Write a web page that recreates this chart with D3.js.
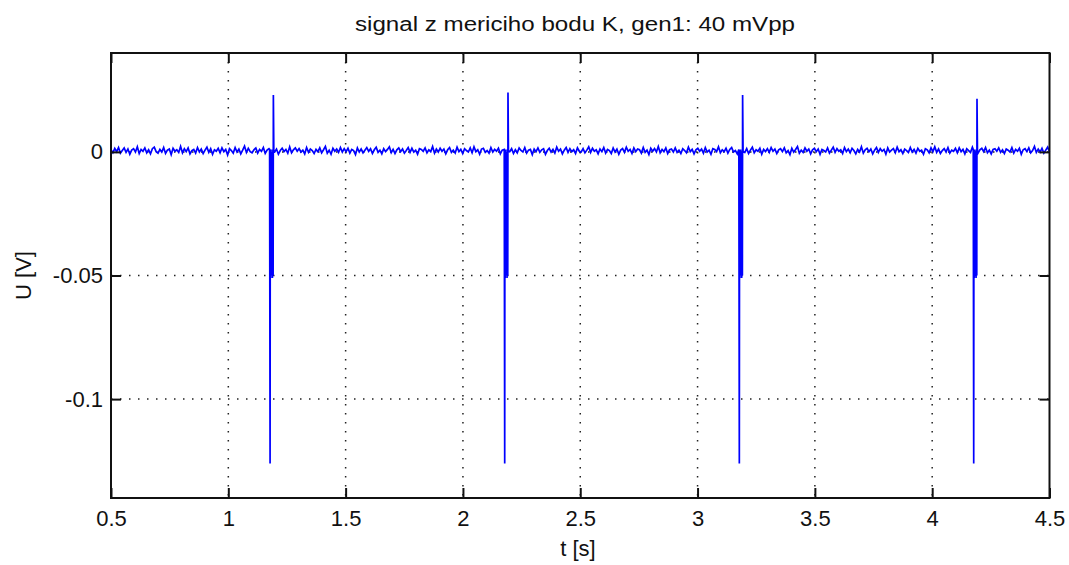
<!DOCTYPE html>
<html>
<head>
<meta charset="utf-8">
<script src="https://cdn.jsdelivr.net/npm/d3@7/dist/d3.min.js"></script>
<style>
  html, body { margin: 0; padding: 0; background: #fff; }
  svg { display: block; }
  text { font-family: "Liberation Sans", Arial, sans-serif; fill: #111; }
</style>
</head>
<body>
<svg id="chart" width="1069" height="565"></svg>
<script>
// Measured signal: baseline noise plus four pulses (U in volts, t in seconds)
const titleText = "signal z mericiho bodu K, gen1: 40 mVpp";
const xLabel = "t [s]";
const yLabel = "U [V]";

const xDomain = [0.5, 4.5];
const yDomain = [-0.14, 0.04];
const xTicks = [0.5, 1, 1.5, 2, 2.5, 3, 3.5, 4, 4.5];
const yTicks = [-0.1, -0.05, 0];
const xGrid = [1, 1.5, 2, 2.5, 3, 3.5, 4];
const yGrid = [-0.1, -0.05, 0];

// Baseline noise, in units of 0.15 mV, sampled evenly over the record
const noiseStart = 0.5;
const noiseEnd = 4.5;
const noiseUnit = 0.00015;
const noiseBaseline = 0.0004;
const noise = [
  3,-5,7,-2,9,-6,1,8,-4,5,-9,2,6,-3,11,-7,4,-1,8,-5,3,-8,6,10,-2,
  -6,4,-3,9,-7,2,5,-10,7,-1,3,-4,12,-5,6,-2,8,-8,1,4,-6,9,-3,5,-7,
  2,10,-4,6,-9,3,-1,7,-5,8,-2,4,-11,6,1,-6,9,-3,5,-8,2,13,-4,7,-2,
  -5,3,8,-6,4,-1,9,-7,2,6,-4,10,-3,5,-9,1,7,-2,4,-6,11,-5,3,8,-1,
  6,-3,2,-8,9,-4,5,1,-7,4,-2,8,-5,3,12,-6,2,-9,7,-1,5,-4,9,-3,6,
  -2,7,-6,4,1,-10,8,-3,5,-5,2,9,-1,6,-7,3,10,-4,2,-8,6,-2,4,11,-5,
  4,-7,3,8,-2,5,-6,1,9,-4,7,-3,2,-9,6,4,-1,8,-5,3,-2,12,-6,5,-3,
  7,-1,5,-8,3,9,-4,2,-6,10,-2,4,-7,6,1,-3,8,-5,11,-2,3,-9,5,7,-4,
  1,-6,9,-3,4,-1,7,-8,2,5,-4,13,-2,6,-7,3,-5,8,1,-3,9,-6,2,4,-10,
  5,-2,8,-4,3,6,-9,1,7,-3,4,-6,10,-1,5,-8,2,9,-4,6,-2,3,-7,8,-1,
  -3,6,-5,2,11,-4,7,-1,3,-8,5,-2,9,-6,4,1,-7,8,-3,5,-9,2,6,-4,10,
  -1,4,-7,8,-2,5,3,-6,9,-4,2,-10,7,-1,6,-3,12,-5,4,-2,8,-7,3,5,-3,
  8,-4,2,-7,6,1,-5,10,-2,4,-8,3,7,-1,5,-6,9,-3,2,-9,6,4,-2,11,-5,
  3,-2,7,-6,4,9,-3,1,-8,5,-1,8,-4,6,-7,2,10,-5,3,-1,7,-9,4,-2,6,
  -4,9,-1,5,-7,3,6,-2,8,-5,1,-10,7,-3,4,12,-6,2,-4,8,-1,5,-8,3,7,
  -2,5,-9,4,1,-3,8,-6,2,10,-4,6,-1,3,-7,9,-2,5,-5,7,1,-8,4,-3,11,
  -6,3,7,-2,5,-8,2,9,-4,6,-1,4,-9,8,-3,2,6,-5,10,-2,3,-7,5,1,-4,
  9,-3,4,-6,7,-1,2,-9,6,3,-5,8,-2,11,-4,5,-7,1,6,-3,9,-6,2,-1,7,
  -5,8,-2,4,-8,6,1,-4,10,-3,5,-6,3,7,-2,9,-5,2,-8,4,6,-1,8,-4,3,
  -7,5,2,-3,9,-6,4,-1,7,-9,3,6,-2,8,-5,1,12,-4,5,-3,7,-6,2,10,-2
];

// Pulses: centre time and the samples recorded around it (V)
const pulseTimes = [1.184, 2.184, 3.184, 4.183];
const pulseOffsets = [-0.008, -0.006, -0.005, -0.004, -0.002, 0, 0.002, 0.004, 0.006, 0.007, 0.008, 0.010];
const pulse1 = [0.001, -0.126, 0.000, -0.051, 0.001, -0.050, 0.000, -0.051, 0.001, -0.050, 0.023, 0.000];
const pulse2 = [0.001, -0.126, 0.000, -0.051, 0.001, -0.050, 0.000, -0.051, 0.001, -0.050, 0.024, 0.000];
const pulse3 = [0.001, -0.126, 0.000, -0.051, 0.001, -0.050, 0.000, -0.051, 0.001, -0.050, 0.023, 0.000];
const pulse4 = [0.001, -0.126, 0.000, -0.051, 0.001, -0.050, 0.000, -0.051, 0.001, -0.050, 0.0215, 0.000];
const pulses = [pulse1, pulse2, pulse3, pulse4];

// ---- layout ----
const plot = { left: 111, right: 1049.5, top: 53, bottom: 498 };

const svg = d3.select("#chart");
const x = d3.scaleLinear().domain(xDomain).range([plot.left, plot.right]);
const y = d3.scaleLinear().domain(yDomain).range([plot.bottom, plot.top]);

// assemble the sample series
const step = (noiseEnd - noiseStart) / (noise.length - 1);
const windowBefore = 0.009, windowAfter = 0.011;
let samples = noise.map((v, i) => ({ t: noiseStart + i * step, u: noiseBaseline + v * noiseUnit }))
  .filter(d => !pulseTimes.some(pt => d.t > pt - windowBefore && d.t < pt + windowAfter));
pulseTimes.forEach((pt, k) => {
  pulseOffsets.forEach((o, j) => samples.push({ t: pt + o, u: pulses[k][j] }));
});
samples.sort((a, b) => a.t - b.t);

// grid
const grid = svg.append("g").attr("class", "grid");
grid.selectAll("line.gx").data(xGrid).enter().append("line")
  .attr("x1", d => x(d)).attr("x2", d => x(d))
  .attr("y1", plot.top).attr("y2", plot.bottom)
  .attr("stroke", "#222").attr("stroke-width", 1.5).attr("stroke-dasharray", "1.5 7.5");
grid.selectAll("line.gy").data(yGrid).enter().append("line")
  .attr("x1", plot.left).attr("x2", plot.right)
  .attr("y1", d => y(d)).attr("y2", d => y(d))
  .attr("stroke", "#222").attr("stroke-width", 1.5).attr("stroke-dasharray", "1.5 7.5");

// signal trace
svg.append("path")
  .datum(samples)
  .attr("fill", "none")
  .attr("stroke", "#0000ff")
  .attr("stroke-width", 1.7)
  .attr("stroke-linejoin", "miter")
  .attr("d", d3.line().x(d => x(d.t)).y(d => y(d.u)));

// axes with inward ticks on all four sides
const tickLen = 10;
const fmt = d => (d === 0 ? "0" : String(+d.toFixed(3)));
const axB = svg.append("g").attr("transform", `translate(0,${plot.bottom})`)
  .call(d3.axisBottom(x).tickValues(xTicks).tickSizeInner(-tickLen).tickSizeOuter(0).tickPadding(12).tickFormat(fmt));
const axL = svg.append("g").attr("transform", `translate(${plot.left},0)`)
  .call(d3.axisLeft(y).tickValues(yTicks).tickSizeInner(-tickLen).tickSizeOuter(0).tickPadding(8).tickFormat(fmt));
const axT = svg.append("g").attr("transform", `translate(0,${plot.top})`)
  .call(d3.axisTop(x).tickValues(xTicks).tickSizeInner(-tickLen).tickSizeOuter(0).tickFormat(""));
const axR = svg.append("g").attr("transform", `translate(${plot.right},0)`)
  .call(d3.axisRight(y).tickValues(yTicks).tickSizeInner(-tickLen).tickSizeOuter(0).tickFormat(""));

[axB, axL, axT, axR].forEach(a => {
  a.select(".domain").remove();
  a.selectAll(".tick line").attr("stroke", "#111").attr("stroke-width", 2);
  a.selectAll(".tick text").attr("font-size", 22).attr("fill", "#111")
    .attr("font-family", "'Liberation Sans', Arial, sans-serif");
});

// frame
svg.append("rect")
  .attr("x", plot.left).attr("y", plot.top)
  .attr("width", plot.right - plot.left).attr("height", plot.bottom - plot.top)
  .attr("fill", "none").attr("stroke", "#111").attr("stroke-width", 2);

// title and labels
svg.append("text")
  .attr("x", 575).attr("y", 31)
  .attr("text-anchor", "middle").attr("font-size", 20)
  .attr("textLength", 440).attr("lengthAdjust", "spacingAndGlyphs")
  .text(titleText);
svg.append("text")
  .attr("x", 578).attr("y", 556)
  .attr("text-anchor", "middle").attr("font-size", 22)
  .text(xLabel);
svg.append("text")
  .attr("transform", `translate(31,${(plot.top + plot.bottom) / 2}) rotate(-90)`)
  .attr("text-anchor", "middle").attr("font-size", 22)
  .text(yLabel);
</script>
</body>
</html>
